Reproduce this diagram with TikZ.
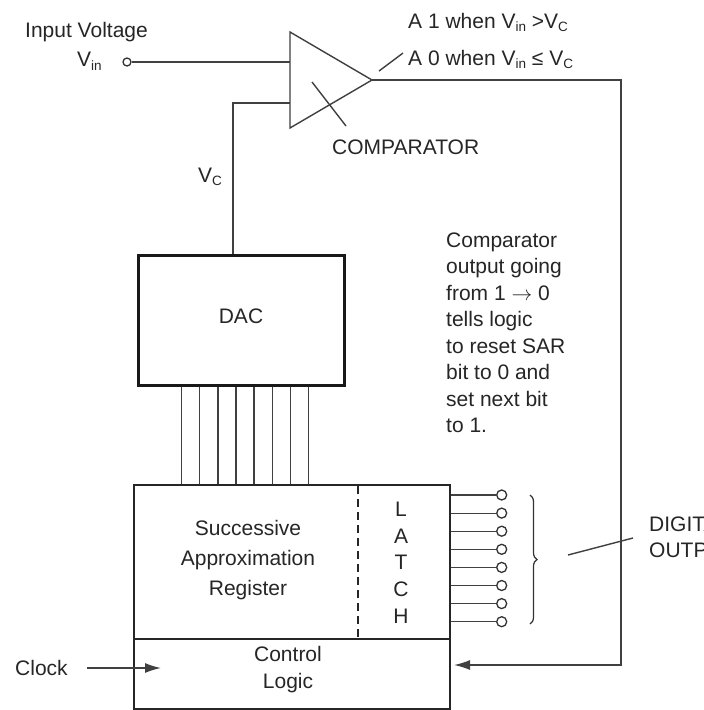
\documentclass[tikz,border=0pt]{standalone}
\usepackage{fontspec}
\setmainfont{Liberation Sans}
\usetikzlibrary{arrows.meta,decorations.pathreplacing,calc}
\newcommand\mysubtxt[1]{\raisebox{-0.35ex}{\fontsize{13.5}{13.5}\selectfont #1}}
\begin{document}
\begin{tikzpicture}[x=1pt,y=-1pt,
  every node/.style={font=\fontsize{21}{26}\selectfont, inner sep=0pt, text=black!85},
  wire/.style={draw=black!75, line width=1.4pt},
  boxline/.style={draw=black!85, line width=1.5pt},
  arr/.style={-{Latex[length=16pt,width=10pt]}},
  term/.style={circle, draw=black!80, line width=1.3pt, minimum size=10pt, fill=white},
  lbl/.style={anchor=base west}]
\useasboundingbox (0,0) rectangle (704,710);
\fill[white] (0,0) rectangle (704,710);

% comparator
\coordinate (ctop) at (290,32);
\coordinate (cbot) at (290,128);
\coordinate (ctip) at (372,80);
\draw[wire, line join=miter] (ctop) -- (ctip) -- (cbot) -- cycle;
\coordinate (crossA) at (312,82);
\coordinate (crossB) at (346,126);
\draw[wire] (crossA) -- (crossB);
\coordinate (leadA) at (379,71);
\coordinate (leadB) at (403,53);
\draw[wire] (leadA) -- (leadB);

% input
\node[term, minimum size=8pt] (vin) at (127,62) {};
\draw[wire] (vin) -- (vin -| ctop);
\node[lbl] (inputlbl) at (25,37) {Input Voltage};
\node[lbl] (vinlbl) at (77,66.5) {V\mysubtxt{in}};

% labels near comparator
\node[lbl] (one) at (408,28) {A 1 when V\mysubtxt{in} >V\mysubtxt{C}};
\node[lbl] (zero) at (408,65) {A 0 when V\mysubtxt{in} ≤ V\mysubtxt{C}};
\node[lbl] (complbl) at (332,154) {COMPARATOR};

% DAC
\node[draw=black!90, line width=3pt, minimum width=206pt, minimum height=130pt] (dac) at (241.5,320.5) {};
\node[anchor=base] (daclbl) at (241,323) {DAC};
\coordinate (vcin) at ($(dac.north)+(-8.5,0)$);
\draw[wire] (vcin) |- (290,103);
\node[lbl] (vclbl) at (198,182) {V\mysubtxt{C}};

% SAR and control logic
\node[boxline, anchor=north west, minimum width=316pt, minimum height=154pt] (sar) at (133,484) {};
\node[boxline, anchor=north west, minimum width=316pt, minimum height=70pt] (ctl) at (133,638) {};
\draw[black!85, line width=1.5pt, dash pattern=on 8pt off 5pt] (358,486) -- (358,638);
\node[anchor=base] (s1) at (248,535) {Successive};
\node[anchor=base] (s2) at (248,565) {Approximation};
\node[anchor=base] (s3) at (248,595) {Register};
\foreach \c [count=\i] in {L,A,T,C,H}
  \node[anchor=base] (latch\i) at (401,{490+26.6*\i}) {\c};
\node[anchor=base] (c1) at (288,661.5) {Control};
\node[anchor=base] (c2) at (288,688.5) {Logic};

% DAC to SAR lines
\foreach \i in {0,...,7}
  \draw[wire, line width=1.3pt] ({181.7+18.1*\i},0 |- dac.south) -- ({181.7+18.1*\i},0 |- sar.north);

% latch outputs
\foreach \i in {0,...,7} {
  \node[term] (o\i) at (501.7,{495+18.1*\i}) {};
  \draw[wire, line width=1.2pt] (o\i -| sar.east) -- (o\i);
}
\draw[black!80, line width=1.2pt, decorate, decoration={brace, amplitude=7pt}] (530,495) -- (530,624);
\coordinate (dlA) at (568,555);
\coordinate (dlB) at (633,538);
\draw[wire] (dlA) -- (dlB);
\begin{scope}
\clip (0,0) rectangle (704,710);
\node[lbl] (dig1) at (649,531.5) {DIGITAL};
\node[lbl] (dig2) at (649,557) {OUTPUT};
\end{scope}

% feedback
\coordinate (fb) at (621,665);
\coordinate (fbend) at (454,665);
\draw[wire, arr] (ctip) -| (fb) -- (fbend);

% clock
\node[lbl] (clk) at (15,675) {Clock};
\coordinate (clkA) at (87,668);
\coordinate (clkB) at (161,668);
\draw[wire, arr] (clkA) -- (clkB);

% note
\foreach \t [count=\i] in {Comparator, output going, from 1 $\rightarrow$ 0, tells logic, to reset SAR, bit to 0 and, set next bit, to 1.}
  \node[lbl] (note\i) at (446,{247+26.5*(\i-1)}) {\t};
\end{tikzpicture}
\end{document}
